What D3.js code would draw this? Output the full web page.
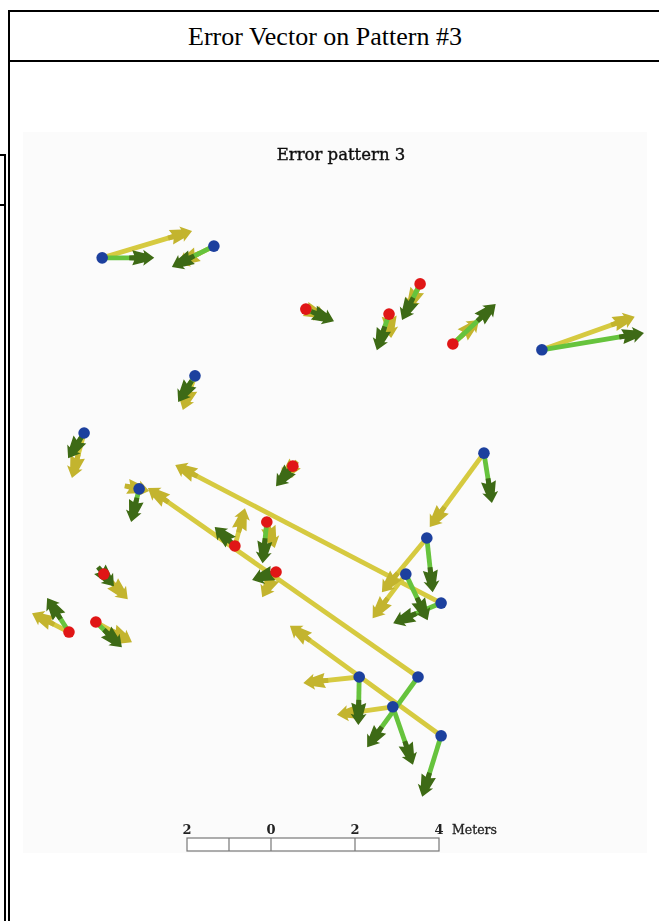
<!DOCTYPE html>
<html>
<head>
<meta charset="utf-8">
<script src="https://cdn.jsdelivr.net/npm/d3@7"></script>
<style>
  body { margin: 0; background: #fff; }
  svg { display: block; }
</style>
</head>
<body>
<div id="chart"></div>
<script>
// station positions in meters, and the kind of station (blue / red dot)
const stationX = [-4.02, -1.36, 0.83, 3.55, 2.81, 4.33, 6.45, -1.81, -4.45, 0.52, 5.07, -3.14, -0.10,
                  -0.86, 3.71, 0.12, 3.21, -3.98, 4.05, -4.17, -4.81, 2.10, 3.50, 2.90, 4.05];
const stationY = [13.98, 14.26, 12.76, 13.36, 12.64, 11.93, 11.79, 11.17, 9.81, 9.02, 9.33, 8.48, 7.69,
                  7.12, 7.31, 6.50, 6.45, 6.45, 5.76, 5.31, 5.07, 4.00, 4.00, 3.29, 2.60];
const stationType = ["b", "b", "r", "r", "r", "r", "b", "b", "b", "r", "b", "b", "r",
                     "r", "b", "r", "b", "r", "b", "r", "r", "b", "b", "b", "b"];

// green error vectors (meters)
const greenDX = [1.24, -1.00, 0.67, -0.43, -0.29, 1.02, 2.43, -0.40, -0.38, -0.40, 0.19, -0.19, -0.10,
                 -0.48, 0.14, -0.57, 0.52, 0.24, -1.14, 0.62, -0.52, -0.02, -1.21, 0.48, -0.45];
const greenDY = [0.00, -0.50, -0.29, -0.86, -0.86, 0.95, 0.40, -0.62, -0.60, -0.48, -1.19, -0.79, -0.98,
                 0.45, -1.29, -0.19, -1.10, -0.29, -0.48, -0.60, 0.81, -1.14, -1.67, -1.38, -1.45];

// yellow error vectors (meters)
const yellowDX = [2.14, -0.86, 0.48, -0.29, 0.05, 0.62, 2.21, -0.29, -0.29, -0.29, -1.29, 0.24, 0.19,
                  0.24, -1.07, -0.33, -0.79, 0.57, -6.33, 0.86, -0.88, -1.33, -6.43, -1.33, -3.60];
const yellowDY = [0.64, -0.43, -0.19, -0.62, -0.57, 0.57, 0.79, -0.81, -1.07, -0.33, -1.76, -0.05, -0.62,
                  0.90, -1.29, -0.60, -1.05, -0.60, 3.29, -0.48, 0.45, -0.14, 4.50, -0.19, 2.62];

// scale bar
const barTicks = [-2, 0, 2, 4];
const barTickLabels = ["2", "0", "2", "4"];
const barDivisions = [-2, -1, 0, 2, 4];

const width = 659, height = 921;

const svg = d3.select("#chart").append("svg")
  .attr("width", width)
  .attr("height", height);

// page frame
const frame = svg.append("g").attr("stroke", "#000").attr("stroke-width", 2).attr("fill", "none");
frame.append("path").attr("d", "M9,921 V11 H659");
frame.append("path").attr("d", "M8,61 H659");
frame.append("path").attr("d", "M0,155 H5 V921 M0,205 H5");

svg.append("text")
  .attr("x", 325)
  .attr("y", 45)
  .attr("text-anchor", "middle")
  .attr("font-family", "Liberation Serif, serif")
  .attr("font-size", 26)
  .attr("fill", "#000")
  .text("Error Vector on Pattern #3");

// the plot picture
const x = d3.scaleLinear().domain([-6, 9]).range([19, 649]);
const y = d3.scaleLinear().domain([0, 17]).range([845, 131]);

svg.append("defs").append("filter").attr("id", "soft")
  .append("feGaussianBlur").attr("stdDeviation", 0.5);

svg.append("rect")
  .attr("x", 23).attr("y", 132)
  .attr("width", 624).attr("height", 721)
  .attr("fill", "#fbfbfb");

const plot = svg.append("g").attr("filter", "url(#soft)");

plot.append("text")
  .attr("x", 341)
  .attr("y", 160)
  .attr("text-anchor", "middle")
  .attr("font-family", "DejaVu Serif, serif")
  .attr("font-size", 16.5)
  .attr("fill", "#111")
  .attr("stroke", "#111")
  .attr("stroke-width", 0.4)
  .text("Error pattern 3");

const stations = stationX.map((sx, i) => ({
  x: sx, y: stationY[i], type: stationType[i],
  g: [greenDX[i], greenDY[i]], yl: [yellowDX[i], yellowDY[i]]
}));

// arrowhead pointing along +x, tip at the origin
const headPath = "M0,0 L-11,-8 L-10,-4.5 L-22,-7.5 L-20,-2.6 L-25,-2.4 L-25,2.4 L-20,2.6 L-22,7.5 L-10,4.5 L-11,8 Z";

function drawVectors(key, shaftColor, headColor) {
  const g = plot.append("g");
  const vec = stations.map(d => {
    const x0 = x(d.x), y0 = y(d.y);
    const x1 = x(d.x + d[key][0]), y1 = y(d.y + d[key][1]);
    const len = Math.hypot(x1 - x0, y1 - y0);
    const ang = Math.atan2(y1 - y0, x1 - x0);
    const cut = Math.min(len, 12);
    return { x0, y0, x1, y1, ang, xs: x1 - Math.cos(ang) * cut, ys: y1 - Math.sin(ang) * cut };
  });
  g.selectAll("line").data(vec).enter().append("line")
    .attr("x1", d => d.x0).attr("y1", d => d.y0)
    .attr("x2", d => d.xs).attr("y2", d => d.ys)
    .attr("stroke", shaftColor)
    .attr("stroke-width", 4.8);
  g.selectAll("path").data(vec).enter().append("path")
    .attr("d", headPath)
    .attr("transform", d => "translate(" + d.x1 + "," + d.y1 + ") rotate(" + (d.ang * 180 / Math.PI) + ")")
    .attr("fill", headColor);
}

drawVectors("yl", "#d6ca40", "#c3b42e");
drawVectors("g", "#66c33c", "#3e6a12");

plot.selectAll("circle").data(stations).enter().append("circle")
  .attr("cx", d => x(d.x))
  .attr("cy", d => y(d.y))
  .attr("r", 5.8)
  .attr("fill", d => d.type === "b" ? "#1d3f9e" : "#e01414");

// scale bar
const bar = plot.append("g");
const barY = 838, barH = 13;
bar.append("rect")
  .attr("x", x(barDivisions[0])).attr("y", barY)
  .attr("width", x(barDivisions[barDivisions.length - 1]) - x(barDivisions[0]))
  .attr("height", barH)
  .attr("fill", "#fff").attr("stroke", "#777").attr("stroke-width", 1.2);
bar.selectAll("line").data(barDivisions.slice(1, -1)).enter().append("line")
  .attr("x1", d => x(d)).attr("x2", d => x(d))
  .attr("y1", barY).attr("y2", barY + barH)
  .attr("stroke", "#777").attr("stroke-width", 1.2);
bar.selectAll("text.tick").data(barTicks).enter().append("text")
  .attr("class", "tick")
  .attr("x", d => x(d))
  .attr("y", 834)
  .attr("text-anchor", "middle")
  .attr("font-family", "DejaVu Serif, serif")
  .attr("font-size", 13)
  .attr("font-weight", "bold")
  .attr("fill", "#222")
  .text((d, i) => barTickLabels[i]);
bar.append("text")
  .attr("x", x(barTicks[barTicks.length - 1]) + 13)
  .attr("y", 834)
  .attr("font-family", "DejaVu Serif, serif")
  .attr("font-size", 12.5)
  .attr("fill", "#222")
  .attr("stroke", "#222")
  .attr("stroke-width", 0.3)
  .text("Meters");
</script>
</body>
</html>
